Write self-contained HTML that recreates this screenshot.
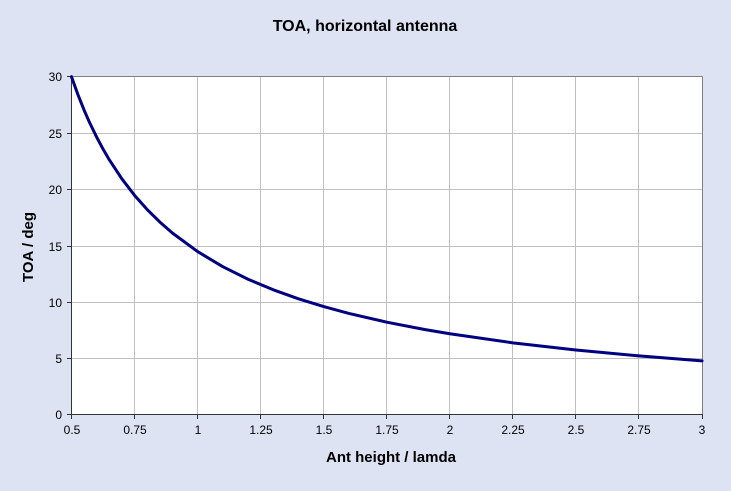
<!DOCTYPE html>
<html>
<head>
<meta charset="utf-8">
<style>
  html, body { margin:0; padding:0; background:#dde3f3; }
  svg { display:block; }
  text { font-family: "Liberation Sans", Arial, sans-serif; fill:#000; }
</style>
</head>
<body>
<svg width="731" height="491" viewBox="0 0 731 491" xmlns="http://www.w3.org/2000/svg">
  <rect x="0" y="0" width="731" height="491" fill="#dde3f3"/>
  <!-- plot area -->
  <rect x="71.5" y="76.5" width="630.5" height="338" fill="#ffffff"/>
  <!-- grid -->
  <g stroke="#c0c0c0" stroke-width="1" shape-rendering="crispEdges">
    <line x1="134.5" y1="77" x2="134.5" y2="415"/>
    <line x1="197.5" y1="77" x2="197.5" y2="415"/>
    <line x1="260.5" y1="77" x2="260.5" y2="415"/>
    <line x1="323.5" y1="77" x2="323.5" y2="415"/>
    <line x1="386.5" y1="77" x2="386.5" y2="415"/>
    <line x1="449.5" y1="77" x2="449.5" y2="415"/>
    <line x1="512.5" y1="77" x2="512.5" y2="415"/>
    <line x1="575.5" y1="77" x2="575.5" y2="415"/>
    <line x1="638.5" y1="77" x2="638.5" y2="415"/>
    <line x1="72" y1="133.5" x2="702" y2="133.5"/>
    <line x1="72" y1="189.5" x2="702" y2="189.5"/>
    <line x1="72" y1="246.5" x2="702" y2="246.5"/>
    <line x1="72" y1="302.5" x2="702" y2="302.5"/>
    <line x1="72" y1="358.5" x2="702" y2="358.5"/>
  </g>
  <!-- border top/right -->
  <g stroke="#808080" stroke-width="1" shape-rendering="crispEdges">
    <line x1="71" y1="76.5" x2="702.5" y2="76.5"/>
    <line x1="702.5" y1="76.5" x2="702.5" y2="415"/>
  </g>
  <!-- axes -->
  <g stroke="#333333" stroke-width="1" shape-rendering="crispEdges">
    <line x1="71.5" y1="76" x2="71.5" y2="415"/>
    <line x1="71" y1="414.5" x2="703" y2="414.5"/>
    <!-- y ticks -->
    <line x1="67" y1="76.5" x2="71" y2="76.5"/>
    <line x1="67" y1="133.5" x2="71" y2="133.5"/>
    <line x1="67" y1="189.5" x2="71" y2="189.5"/>
    <line x1="67" y1="246.5" x2="71" y2="246.5"/>
    <line x1="67" y1="302.5" x2="71" y2="302.5"/>
    <line x1="67" y1="358.5" x2="71" y2="358.5"/>
    <line x1="67" y1="414.5" x2="71" y2="414.5"/>
    <!-- x ticks -->
    <line x1="71.5" y1="415" x2="71.5" y2="419"/>
    <line x1="134.5" y1="415" x2="134.5" y2="419"/>
    <line x1="197.5" y1="415" x2="197.5" y2="419"/>
    <line x1="260.5" y1="415" x2="260.5" y2="419"/>
    <line x1="323.5" y1="415" x2="323.5" y2="419"/>
    <line x1="386.5" y1="415" x2="386.5" y2="419"/>
    <line x1="449.5" y1="415" x2="449.5" y2="419"/>
    <line x1="512.5" y1="415" x2="512.5" y2="419"/>
    <line x1="575.5" y1="415" x2="575.5" y2="419"/>
    <line x1="638.5" y1="415" x2="638.5" y2="419"/>
    <line x1="702.5" y1="415" x2="702.5" y2="419"/>
  </g>
  <!-- curve -->
  <polyline fill="none" stroke="#000080" stroke-width="3" stroke-linejoin="round" stroke-linecap="round"
    points="71.5,76.7 77.8,94.31 84.1,110.09 89.15,121.61 96.72,137.27 103.03,149.05 109.33,159.85 121.94,178.94 134.55,195.33 147.16,209.53 159.77,221.98 172.38,232.99 197.6,251.58 222.82,266.69 248.04,279.22 273.26,289.79 298.48,298.81 323.7,306.61 348.92,313.42 386.75,322.17 424.58,329.51 449.8,333.79 512.85,342.83 575.9,350.04 638.95,355.93 702,360.85"/>
  <!-- y tick labels -->
  <g font-size="12" text-anchor="end">
    <text x="62" y="81">30</text>
    <text x="62" y="138">25</text>
    <text x="62" y="194">20</text>
    <text x="62" y="251">15</text>
    <text x="62" y="307">10</text>
    <text x="62" y="363">5</text>
    <text x="62" y="419">0</text>
  </g>
  <!-- x tick labels -->
  <g font-size="12" text-anchor="middle">
    <text x="72" y="434">0.5</text>
    <text x="135" y="434">0.75</text>
    <text x="198" y="434">1</text>
    <text x="261" y="434">1.25</text>
    <text x="324" y="434">1.5</text>
    <text x="387" y="434">1.75</text>
    <text x="450" y="434">2</text>
    <text x="513" y="434">2.25</text>
    <text x="576" y="434">2.5</text>
    <text x="639" y="434">2.75</text>
    <text x="702" y="434">3</text>
  </g>
  <!-- title -->
  <text x="365" y="31" font-size="16" font-weight="bold" text-anchor="middle">TOA, horizontal antenna</text>
  <!-- axis titles -->
  <text x="391" y="462" font-size="15" font-weight="bold" text-anchor="middle">Ant height / lamda</text>
  <text transform="translate(33,247) rotate(-90)" font-size="15" font-weight="bold" text-anchor="middle">TOA / deg</text>
</svg>
</body>
</html>
